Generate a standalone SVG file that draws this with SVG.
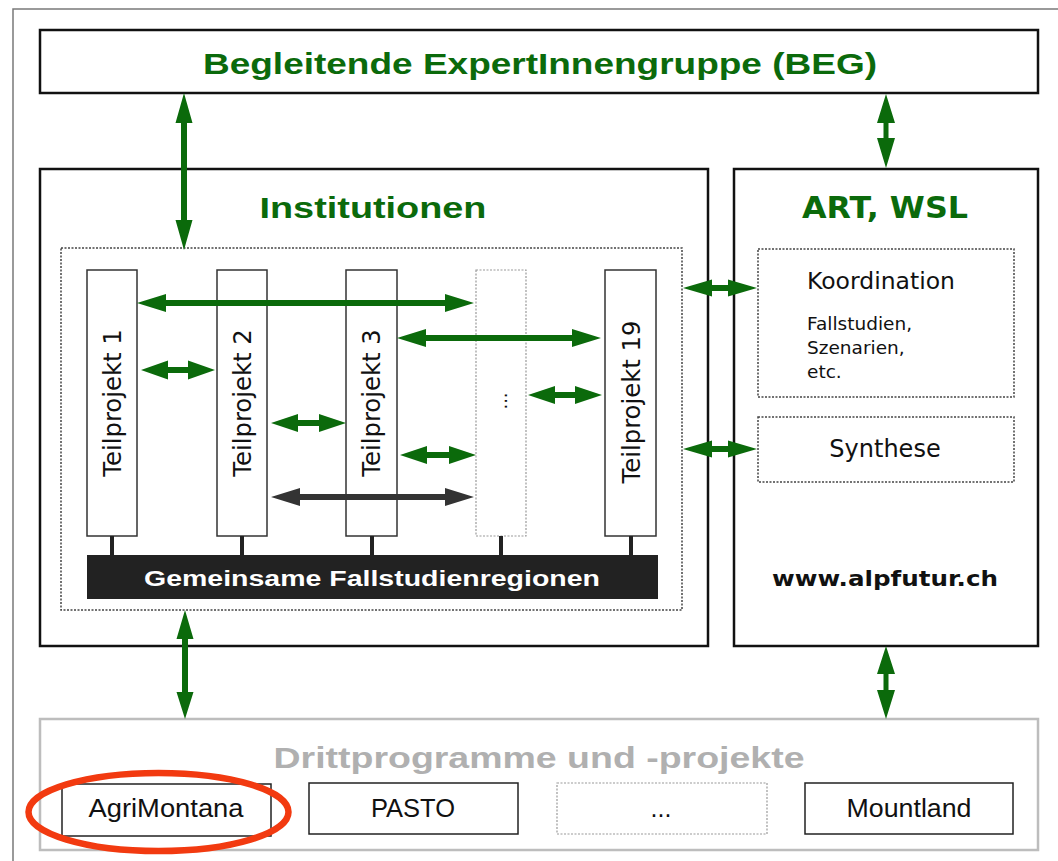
<svg xmlns="http://www.w3.org/2000/svg" width="1058" height="861" viewBox="0 0 1058 861">
<style>
.box{fill:#fff;stroke:#111;stroke-width:2.5}
.tp{fill:#fff;stroke:#333;stroke-width:1.5}
.dot{fill:none;stroke:#444;stroke-width:1.5;stroke-dasharray:2 1.5}
.dotl{fill:#fff;stroke:#999;stroke-width:1.2;stroke-dasharray:2 1.5}
.title{font-family:"Liberation Sans",Arial,sans-serif;font-weight:bold;fill:#0b6a0b;text-anchor:middle}
.lab{font-family:"DejaVu Sans",Verdana,sans-serif;fill:#111}
.cond{font-family:"Liberation Sans",Arial,sans-serif;fill:#111;text-anchor:middle;font-size:25px}
.ga{fill:#0b6a0b}
.da{fill:#333}
.stem{stroke:#222;stroke-width:4}
</style>
<rect width="1058" height="861" fill="#fff"/>
<path d="M13 861 V9 H1058" fill="none" stroke="#7a7a7a" stroke-width="1.5"/>

<g id="beg">
<rect class="box" x="40" y="30" width="998" height="63"/>
<text class="title" x="540" y="74" font-size="29.5" textLength="674" lengthAdjust="spacingAndGlyphs">Begleitende ExpertInnengruppe (BEG)</text>
</g>

<g id="institutionen">
<rect class="box" x="40" y="169" width="668" height="477"/>
<text class="title" x="373" y="218" font-size="29.5" textLength="227" lengthAdjust="spacingAndGlyphs">Institutionen</text>
<rect class="dot" x="61" y="248" width="621" height="362"/>
</g>

<g id="tp1">
<rect class="tp" x="87" y="270" width="50" height="266"/>
<text class="lab" font-size="24.3" text-anchor="middle" transform="translate(121,403) rotate(-90)">Teilprojekt 1</text>
</g>
<g id="tp2">
<rect class="tp" x="217" y="270" width="50" height="266"/>
<text class="lab" font-size="24.3" text-anchor="middle" transform="translate(251,403) rotate(-90)">Teilprojekt 2</text>
</g>
<g id="tp3">
<rect class="tp" x="346" y="270" width="51" height="266"/>
<text class="lab" font-size="24.3" text-anchor="middle" transform="translate(380,403) rotate(-90)">Teilprojekt 3</text>
</g>
<g id="tpdots">
<rect class="dotl" x="476" y="270" width="50" height="266"/>
<text class="lab" font-size="18" text-anchor="middle" transform="translate(507,401) rotate(-90)">...</text>
</g>
<g id="tp19">
<rect class="tp" x="605" y="270" width="51" height="266"/>
<text class="lab" font-size="24.3" text-anchor="middle" transform="translate(640,402) rotate(-90)">Teilprojekt 19</text>
</g>

<g id="fallstudienregionen">
<line class="stem" x1="112" y1="536" x2="112" y2="556"/>
<line class="stem" x1="242" y1="536" x2="242" y2="556"/>
<line class="stem" x1="372" y1="536" x2="372" y2="556"/>
<line class="stem" x1="501" y1="536" x2="501" y2="556"/>
<line class="stem" x1="631" y1="536" x2="631" y2="556"/>
<rect x="87" y="555" width="571" height="44" fill="#222"/>
<text x="372" y="586" font-family="'Liberation Sans',Arial,sans-serif" font-weight="bold" font-size="22.5" fill="#fff" text-anchor="middle" textLength="456" lengthAdjust="spacingAndGlyphs">Gemeinsame Fallstudienregionen</text>
</g>

<g id="art-wsl">
<rect class="box" x="734" y="169" width="304" height="477"/>
<text x="885" y="218" font-family="'DejaVu Sans',Verdana,sans-serif" font-weight="bold" font-size="30" fill="#0b6a0b" text-anchor="middle" textLength="166" lengthAdjust="spacingAndGlyphs">ART, WSL</text>
<text x="885" y="586" font-family="'DejaVu Sans',Verdana,sans-serif" font-weight="bold" font-size="21" fill="#111" text-anchor="middle" textLength="226" lengthAdjust="spacingAndGlyphs">www.alpfutur.ch</text>
</g>

<g id="koordination">
<rect class="dot" x="758" y="249" width="256" height="148"/>
<text class="lab" x="807" y="289" font-size="23.5">Koordination</text>
<text class="lab" x="807" y="330" font-size="18.5">Fallstudien,</text>
<text class="lab" x="807" y="354" font-size="18.5">Szenarien,</text>
<text class="lab" x="807" y="378" font-size="18.5">etc.</text>
</g>

<g id="synthese">
<rect class="dot" x="758" y="417" width="256" height="65"/>
<text class="lab" x="885" y="457" font-size="24" text-anchor="middle">Synthese</text>
</g>

<g id="drittprogramme">
<rect x="40" y="719" width="998" height="131" fill="#fff" stroke="#bdbdbd" stroke-width="2.5"/>
<text x="539" y="768" font-family="'Liberation Sans',Arial,sans-serif" font-weight="bold" font-size="29.5" fill="#b0b0b0" text-anchor="middle" textLength="531" lengthAdjust="spacingAndGlyphs">Drittprogramme und -projekte</text>
</g>
<g id="agrimontana">
<rect x="62" y="784" width="209" height="52" fill="#fff" stroke="#222" stroke-width="1.5"/>
<text class="cond" x="166" y="817" textLength="155" lengthAdjust="spacingAndGlyphs">AgriMontana</text>
</g>
<g id="pasto">
<rect x="309" y="783" width="209" height="51" fill="#fff" stroke="#222" stroke-width="1.5"/>
<text class="cond" x="413" y="817" textLength="84" lengthAdjust="spacingAndGlyphs">PASTO</text>
</g>
<g id="dritt-dots">
<rect class="dotl" x="557" y="783" width="210" height="51" stroke="#777"/>
<text class="cond" x="661" y="817" font-size="20">...</text>
</g>
<g id="mountland">
<rect x="805" y="783" width="208" height="51" fill="#fff" stroke="#222" stroke-width="1.5"/>
<text class="cond" x="909" y="817" textLength="125" lengthAdjust="spacingAndGlyphs">Mountland</text>
</g>

<g id="connectors">
<path class="ga" d="M184 93 L192.5 123 L187 123 L187 220 L192.5 220 L184 250 L175.5 220 L181 220 L181 123 L175.5 123 Z"/>
<path class="ga" d="M886 94 L895 123 L888.5 123 L888.5 138 L895 138 L886 168 L877 138 L883.5 138 L883.5 123 L877 123 Z"/>
<path class="ga" d="M185 610 L193.5 639 L188 639 L188 692 L193.5 692 L185 719 L176.5 692 L182 692 L182 639 L176.5 639 Z"/>
<path class="ga" d="M886 646 L895 674 L888.5 674 L888.5 690 L895 690 L886 719 L877 690 L883.5 690 L883.5 674 L877 674 Z"/>
<path class="ga" d="M137 303 L166 294 L166 300 L445 300 L445 294 L474 303 L445 312 L445 306 L166 306 L166 312 Z"/>
<path class="ga" d="M397 338 L426 329 L426 335 L572 335 L572 329 L601 338 L572 347 L572 341 L426 341 L426 347 Z"/>
<path class="ga" d="M141 370 L168 360.5 L168 367 L188 367 L188 360.5 L215 370 L188 379.5 L188 373 L168 373 L168 379.5 Z"/>
<path class="ga" d="M528 395 L555 386 L555 392 L575 392 L575 386 L602 395 L575 404 L575 398 L555 398 L555 404 Z"/>
<path class="ga" d="M271 423 L298 414 L298 420 L319 420 L319 414 L346 423 L319 432 L319 426 L298 426 L298 432 Z"/>
<path class="ga" d="M400 455 L427 446 L427 452 L449 452 L449 446 L476 455 L449 464 L449 458 L427 458 L427 464 Z"/>
<path class="da" d="M271 497 L300 488 L300 494 L445 494 L445 488 L474 497 L445 506 L445 500 L300 500 L300 506 Z"/>
<path class="ga" d="M683 288 L712 279.5 L712 285 L728 285 L728 279.5 L757 288 L728 296.5 L728 291 L712 291 L712 296.5 Z"/>
<path class="ga" d="M683 449 L712 440.5 L712 446 L728 446 L728 440.5 L757 449 L728 457.5 L728 452 L712 452 L712 457.5 Z"/>
</g>

<ellipse cx="158.5" cy="812" rx="130" ry="39" fill="none" stroke="#f23a10" stroke-width="6.5"/>
</svg>
